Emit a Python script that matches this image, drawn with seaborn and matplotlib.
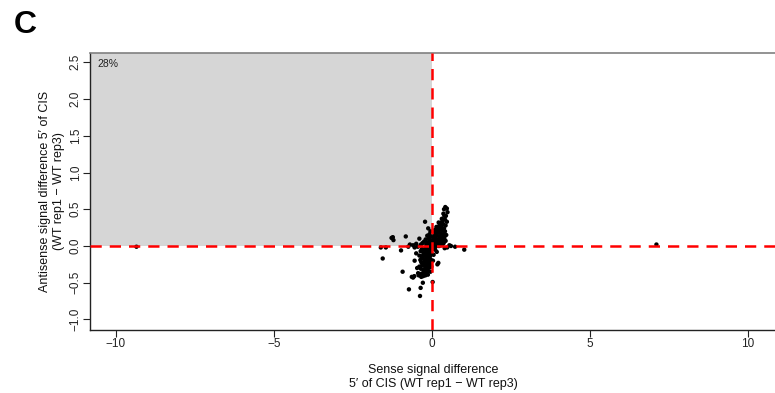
import matplotlib
matplotlib.use("Agg")
import matplotlib.pyplot as plt
import seaborn as sns
import pandas as pd
from matplotlib.patches import Rectangle

# ---- data ----
sense_x = [
    0.42, 0.47, 0.38, 0.49, 0.36, 0.44, 0.31, 0.41, 0.47, 0.27, 0.35, 0.43, 0.22, 0.30, 0.38,
    0.16, 0.25, 0.33, 0.41, 0.12, 0.20, 0.28, 0.36, 0.45, 0.08, 0.15, 0.23, 0.31, 0.39, 0.05,
    0.11, 0.18, 0.26, 0.34, 0.43, 0.02, 0.09, 0.15, 0.21, 0.29, 0.37, 0.04, 0.12, 0.19, 0.25,
    0.33, 0.06, 0.14, 0.22, 0.28, 0.55, 0.18, 0.26, 0.33, 0.14, 0.21, 0.10, 0.06, 0.39,
    -0.22, -0.12, -0.05, -0.08, -0.15, -0.03, -0.10, -0.20, -0.02, -0.07, -0.14, -0.25, -0.30,
    -0.18, -0.04, -0.09, -0.40, -0.35, -0.50, -0.60, -0.83, -1.28, -1.22, -1.24,
    -1.62, -1.46, -0.75, -0.55, -0.45, -0.70, 0.73, 1.02, 0.48, 0.40, 0.60,
    -0.02, -0.08, -0.14, -0.20, -0.26, -0.32, -0.05, -0.11, -0.17, -0.23, -0.29, -0.36,
    -0.03, -0.09, -0.15, -0.21, -0.27, -0.33, -0.40, -0.06, -0.12, -0.18, -0.24, -0.30, -0.37,
    -0.03, -0.09, -0.15, -0.21, -0.27, -0.34, -0.06, -0.12, -0.18, -0.24, -0.31, -0.40,
    -0.08, -0.14, -0.20, -0.27, -0.35, -0.11, -0.17, -0.23, -0.30, -0.38, -0.44,
    -0.13, -0.21, -0.28, -0.34, -0.42, -0.60, -0.64, -0.56, -0.73, -0.38, -0.36, -0.29, 0.02,
    -0.93, -1.56, -0.98, 0.20, 0.17, 0.10, 0.15, 0.05, 0.08, -0.50, -0.55, -0.47, -0.05,
    -0.02, 0.03, 0.01, -0.01, 0.03, -0.04, 0.02, -0.06, 0.07, -0.11, 0.12, -0.16,
    -9.35, 7.10,
]
antisense_y = [
    0.53, 0.51, 0.50, 0.46, 0.44, 0.41, 0.37, 0.36, 0.33, 0.31, 0.30, 0.28, 0.27, 0.26, 0.24,
    0.23, 0.22, 0.21, 0.20, 0.19, 0.18, 0.17, 0.16, 0.15, 0.15, 0.14, 0.13, 0.12, 0.11, 0.11,
    0.10, 0.09, 0.09, 0.08, 0.07, 0.08, 0.07, 0.06, 0.06, 0.05, 0.04, 0.04, 0.03, 0.03, 0.02,
    0.02, 0.01, 0.00, 0.00, 0.01, 0.01, 0.20, 0.30, 0.34, 0.26, 0.32, 0.22, 0.18, 0.41,
    0.33, 0.24, 0.20, 0.16, 0.14, 0.13, 0.10, 0.09, 0.07, 0.06, 0.05, 0.06, 0.04,
    0.02, 0.03, 0.01, 0.10, 0.02, 0.03, 0.01, 0.13, 0.11, 0.08, 0.12,
    -0.02, -0.02, -0.01, -0.02, -0.01, 0.02, -0.01, -0.05, -0.02, -0.03, 0.00,
    -0.02, -0.03, -0.04, -0.03, -0.05, -0.04, -0.06, -0.07, -0.08, -0.09, -0.08, -0.07,
    -0.10, -0.11, -0.12, -0.13, -0.12, -0.14, -0.13, -0.14, -0.16, -0.17, -0.18, -0.17, -0.19,
    -0.19, -0.20, -0.21, -0.22, -0.23, -0.22, -0.24, -0.25, -0.26, -0.27, -0.26, -0.28,
    -0.29, -0.30, -0.31, -0.32, -0.31, -0.34, -0.35, -0.36, -0.37, -0.38, -0.37,
    -0.39, -0.40, -0.41, -0.42, -0.40, -0.43, -0.42, -0.41, -0.59, -0.68, -0.57, -0.50, -0.49,
    -0.35, -0.17, -0.06, -0.23, -0.25, -0.05, -0.08, -0.12, -0.03, -0.10, -0.20, -0.30, -0.35,
    -0.28, -0.20, 0.02, -0.01, -0.04, 0.05, 0.00, -0.02, 0.04, -0.01, 0.02, -0.03,
    -0.01, 0.02,
]
xticks = [-10, -5, 0, 5, 10]
yticks = [-1.0, -0.5, 0.0, 0.5, 1.0, 1.5, 2.0, 2.5]
quadrant_label = "28%"

df = pd.DataFrame({"sense": sense_x, "antisense": antisense_y})

sns.set_style("ticks")
plt.rcParams["font.family"] = ["Liberation Sans", "DejaVu Sans"]

fig = plt.figure(figsize=(7.75, 3.93), dpi=100)
ax = fig.add_axes([90 / 775, 1 - 330 / 393, 1 - 90 / 775 + 0.002, (330 - 53) / 393])

xlim = (-10.82, 10.9)
ylim = (-1.143, 2.626)
ax.set_xlim(*xlim)
ax.set_ylim(*ylim)

ax.add_patch(Rectangle((xlim[0], 0), 0 - xlim[0], ylim[1] - 0, facecolor="#d6d6d6",
                       edgecolor="none", zorder=0))

sns.scatterplot(data=df, x="sense", y="antisense", ax=ax, color="black", s=10,
                edgecolor="none", linewidth=0, zorder=2, legend=False)

ax.axvline(0, color="#ff0000", lw=1.8, ls=(0, (4.5, 3.2)), zorder=3)
ax.axhline(0, color="#ff0000", lw=1.8, ls=(0, (4.5, 3.2)), zorder=3)

ax.text(-10.6, 2.47, quadrant_label, fontsize=7.5, va="center", ha="left", color="#222222")

ax.set_xticks(xticks)
ax.set_xticklabels(["\u221210", "\u22125", "0", "5", "10"], fontsize=8.5)
ax.set_yticks(yticks)
ax.set_yticklabels([("\u2212" + f"{abs(v):.1f}") if v < 0 else f"{v:.1f}" for v in yticks],
                   fontsize=8.5, rotation=90, va="center")
ax.tick_params(axis="both", direction="out", length=5, width=0.8, color="#222222",
               labelcolor="#222222", pad=1)

ax.set_xlabel("Sense signal difference\n5\u2032 of CIS (WT rep1 \u2212 WT rep3)", fontsize=9,
              labelpad=10, color="#111111", linespacing=1.2)
ax.set_ylabel("Antisense signal difference 5\u2032 of CIS\n(WT rep1 \u2212 WT rep3)", fontsize=9,
              color="#111111", linespacing=1.2)
ax.yaxis.set_label_coords(-0.036, 0.5)

for side in ["left", "bottom"]:
    ax.spines[side].set_color("#222222")
    ax.spines[side].set_linewidth(1.0)
ax.spines["top"].set_color("#808080")
ax.spines["top"].set_linewidth(1.2)
ax.spines["right"].set_visible(False)

fig.text(14 / 775, 1 - 25 / 393, "C", fontsize=23, fontweight="bold", va="center", ha="left",
         color="black")

fig.savefig("out.png", dpi=100)
